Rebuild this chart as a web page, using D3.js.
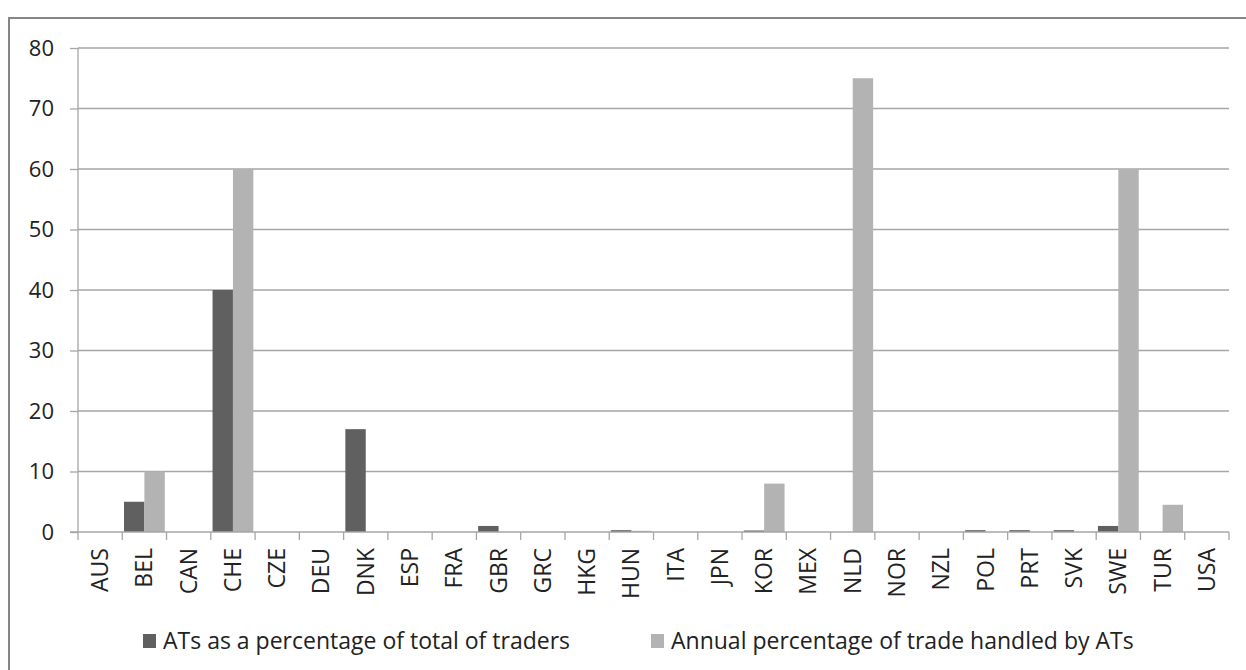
<!DOCTYPE html>
<html lang="en">
<head>
<meta charset="utf-8">
<title>ATs chart</title>
<script src="https://cdnjs.cloudflare.com/ajax/libs/d3/7.8.5/d3.min.js"></script>
<style>
  body { margin: 0; background: #fff; }
  svg { display: block; font-family: "Open Sans", sans-serif; }
</style>
</head>
<body>
<svg id="chart" width="1246" height="670"></svg>
<script>
// countries on the x axis
var countries = ["AUS","BEL","CAN","CHE","CZE","DEU","DNK","ESP","FRA","GBR","GRC","HKG","HUN",
                 "ITA","JPN","KOR","MEX","NLD","NOR","NZL","POL","PRT","SVK","SWE","TUR","USA"];
// ATs as a percentage of total of traders
var tradersPct = [0,5,0,40,0,0,17,0,0,1,0,0,0.3,0,0,0.25,0,0,0,0,0.3,0.3,0.3,1,0,0];
// Annual percentage of trade handled by ATs
var tradePct   = [0,10,0,60,0,0,0,0,0,0,0,0,0.2,0,0,8,0,75,0,0,0,0,0,60,4.5,0];
var yTicks = [0,10,20,30,40,50,60,70,80];
var seriesNames = ["ATs as a percentage of total of traders", "Annual percentage of trade handled by ATs"];
var seriesColors = ["#606060", "#b3b3b3"];

var svg = d3.select("#chart");

// outer frame (runs off the right and bottom of the window)
svg.append("rect")
    .attr("x", 9).attr("y", 18)
    .attr("width", 1260).attr("height", 680)
    .attr("fill", "none").attr("stroke", "#868686").attr("stroke-width", 2);

var plotL = 78, plotR = 1229, plotT = 48, plotB = 532;

var x = d3.scaleBand().domain(countries).range([plotL, plotR]).paddingInner(0).paddingOuter(0);
var y = d3.scaleLinear().domain([0, 80]).range([plotB, plotT]);
var inner = d3.scaleBand().domain([0, 1]).range([0, x.bandwidth()]).paddingOuter(0.085);

// gridlines
svg.append("g").selectAll("line")
    .data(yTicks.filter(d => d > 0))
    .enter().append("line")
    .attr("x1", plotL).attr("x2", plotR)
    .attr("y1", d => y(d)).attr("y2", d => y(d))
    .attr("stroke", "#a6a6a6").attr("stroke-width", 1.3);

// bars
var groups = svg.append("g").selectAll("g")
    .data(countries)
    .enter().append("g")
    .attr("transform", d => "translate(" + x(d) + ",0)");

groups.selectAll("rect")
    .data((d, i) => [tradersPct[i], tradePct[i]])
    .enter().append("rect")
    .attr("x", (d, j) => inner(j))
    .attr("width", inner.bandwidth())
    .attr("y", d => y(d))
    .attr("height", d => plotB - y(d))
    .attr("fill", (d, j) => seriesColors[j]);

// y axis
var yAxis = svg.append("g")
    .attr("transform", "translate(" + plotL + ",0)")
    .call(d3.axisLeft(y).tickValues(yTicks).tickSize(8).tickPadding(16));
yAxis.select(".domain").attr("stroke", "#a6a6a6").attr("stroke-width", 1.3)
    .attr("d", "M0," + plotT + "V" + plotB);
yAxis.selectAll(".tick line").attr("stroke", "#a6a6a6").attr("stroke-width", 1.3);
yAxis.selectAll("text").attr("font-size", 22).attr("fill", "#222")
    .attr("font-family", "Open Sans, sans-serif");

// x axis baseline
svg.append("line")
    .attr("x1", plotL - 8).attr("x2", plotR)
    .attr("y1", plotB).attr("y2", plotB)
    .attr("stroke", "#a6a6a6").attr("stroke-width", 1.3);

// tick marks between categories
svg.append("g").selectAll("line")
    .data(countries.concat(["_end"]))
    .enter().append("line")
    .attr("x1", (d, i) => plotL + i * x.step())
    .attr("x2", (d, i) => plotL + i * x.step())
    .attr("y1", plotB).attr("y2", plotB + 8)
    .attr("stroke", "#a6a6a6").attr("stroke-width", 1.3);

// rotated category labels
svg.append("g").selectAll("text")
    .data(countries)
    .enter().append("text")
    .attr("transform", d => "translate(" + (x(d) + x.bandwidth() / 2 + 8) + "," + (plotB + 16) + ") rotate(-90)")
    .attr("text-anchor", "end")
    .attr("font-size", 23)
    .attr("fill", "#222")
    .text(d => d);

// legend
var legendX = [143, 651];
var legend = svg.append("g").selectAll("g")
    .data(seriesNames)
    .enter().append("g")
    .attr("transform", (d, i) => "translate(" + legendX[i] + ",634)");
legend.append("rect")
    .attr("width", 13).attr("height", 14)
    .attr("fill", (d, i) => seriesColors[i]);
legend.append("text")
    .attr("x", 20).attr("y", 15)
    .attr("font-size", 23)
    .attr("fill", "#222")
    .text(d => d);
</script>
</body>
</html>
